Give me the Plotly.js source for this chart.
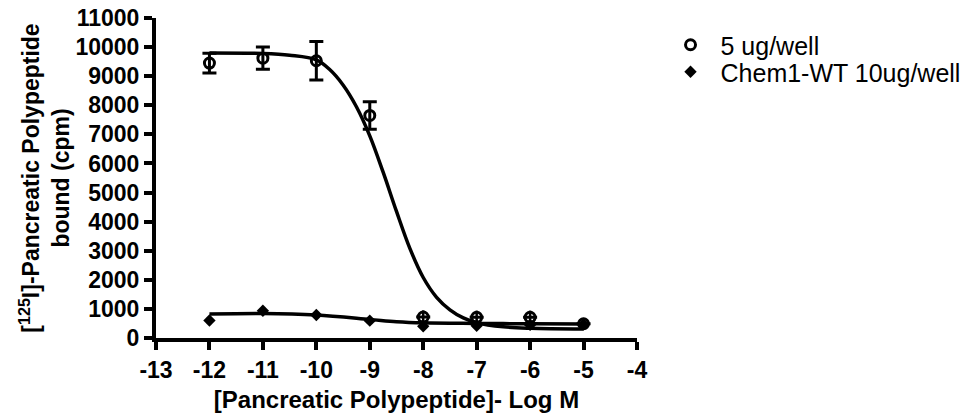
<!DOCTYPE html>
<html>
<head>
<meta charset="utf-8">
<script src="https://cdn.plot.ly/plotly-3.0.1.min.js"></script>
<style>html,body{margin:0;padding:0;background:#fff;}#chart{width:980px;height:416px;}</style>
</head>
<body>
<div id="chart"></div>
<script>
// log concentration (M)
const logConc = [-12, -11, -10, -9, -8, -7, -6, -5];
// 5 ug/well (open circles) means and SEM
const s1Mean = [9450, 9620, 9530, 7650, 720, 710, 710, 490];
const s1Err  = [340, 380, 665, 470, 0, 0, 0, 0];
// small error bars hidden inside the circles
const s1SmallX = [-8, -7, -6, -5];
const s1SmallY = [720, 710, 710, 490];
const s1SmallErr = [230, 230, 230, 200];
// Chem1-WT 10ug/well (diamonds)
const s2Mean = [600, 935, 790, 595, 400, 420, 450, 470];
// fitted curve of 5 ug/well
const fit1X = [-12, -11, -10.5, -10, -9.75, -9.5, -9.25, -9, -8.75, -8.5, -8.25, -8, -7.75, -7.5, -7.25, -7, -6.5, -6, -5];
const fit1Y = [9800, 9780, 9720, 9560, 9230, 8700, 7950, 6950, 5700, 4350, 3080, 2080, 1400, 970, 690, 525, 385, 335, 310];
// fitted curve of Chem1-WT
const fit2X = [-12, -11, -10, -9, -8.5, -8, -7, -6, -5];
const fit2Y = [822, 840, 790, 640, 560, 520, 500, 490, 480];
const xTicks = [-13, -12, -11, -10, -9, -8, -7, -6, -5, -4];
const yTicks = [0, 1000, 2000, 3000, 4000, 5000, 6000, 7000, 8000, 9000, 10000, 11000];

const FONT = 'Liberation Sans, Arial, sans-serif';

const traces = [
  {x: fit1X, y: fit1Y, mode: 'lines', line: {color: '#000', width: 3.5, shape: 'spline', smoothing: 1}, showlegend: false, hoverinfo: 'skip'},
  {x: fit2X, y: fit2Y, mode: 'lines', line: {color: '#000', width: 3.5, shape: 'spline', smoothing: 1}, showlegend: false, hoverinfo: 'skip'},
  {x: s1SmallX, y: s1SmallY, mode: 'markers', marker: {size: 1, opacity: 0}, showlegend: false,
   error_y: {type: 'data', array: s1SmallErr, visible: true, color: '#000', thickness: 2.5, width: 0}},
  {x: logConc, y: s2Mean, name: 'Chem1-WT 10ug/well', mode: 'markers', legend: 'legend2',
   marker: {symbol: 'diamond', size: 9.5, color: '#000', line: {width: 0}}},
  {x: logConc, y: s1Mean, name: '5 ug/well', mode: 'markers', legend: 'legend',
   marker: {symbol: 'circle', size: 10, color: 'rgba(0,0,0,0)', line: {color: '#000', width: 3}},
   error_y: {type: 'data', array: s1Err, visible: true, color: '#000', thickness: 3, width: 7}}
];

const legendBase = {xref: 'container', yref: 'container', xanchor: 'left', yanchor: 'middle',
  font: {family: FONT, size: 25, color: '#000'}, itemwidth: 50, bgcolor: 'rgba(0,0,0,0)', borderwidth: 0};

const layout = {
  width: 980, height: 416,
  margin: {l: 156, r: 343, t: 18, b: 78},
  paper_bgcolor: '#fff', plot_bgcolor: '#fff',
  font: {family: FONT, color: '#000'},
  showlegend: true,
  legend: Object.assign({}, legendBase, {x: 0.674, y: 1 - 45 / 416}),
  legend2: Object.assign({}, legendBase, {x: 0.674, y: 1 - 72 / 416}),
  xaxis: {
    range: [-13, -4], tickvals: xTicks, ticktext: xTicks.map(String),
    showgrid: false, zeroline: false, showline: true, linecolor: '#000', linewidth: 4,
    ticks: 'outside', ticklen: 8, tickwidth: 4, tickcolor: '#000',
    tickfont: {family: FONT, size: 23, weight: 'bold', color: '#000'},
    title: {text: '[Pancreatic Polypeptide]- Log M', font: {family: FONT, size: 24, weight: 'bold', color: '#000'}, standoff: 11}
  },
  yaxis: {
    range: [0, 11000], tickvals: yTicks, ticktext: yTicks.map(String),
    showgrid: false, zeroline: false, showline: true, linecolor: '#000', linewidth: 4,
    ticks: 'outside', ticklen: 8, tickwidth: 4, tickcolor: '#000',
    tickfont: {family: FONT, size: 23, weight: 'bold', color: '#000'},
    title: {text: '[<sup>125</sup>I]-Pancreatic Polypeptide<br>bound (cpm)', font: {family: FONT, size: 23, weight: 'bold', color: '#000'}, standoff: 0}
  }
};

Plotly.newPlot('chart', traces, layout, {displayModeBar: false, staticPlot: true});
</script>
</body>
</html>
